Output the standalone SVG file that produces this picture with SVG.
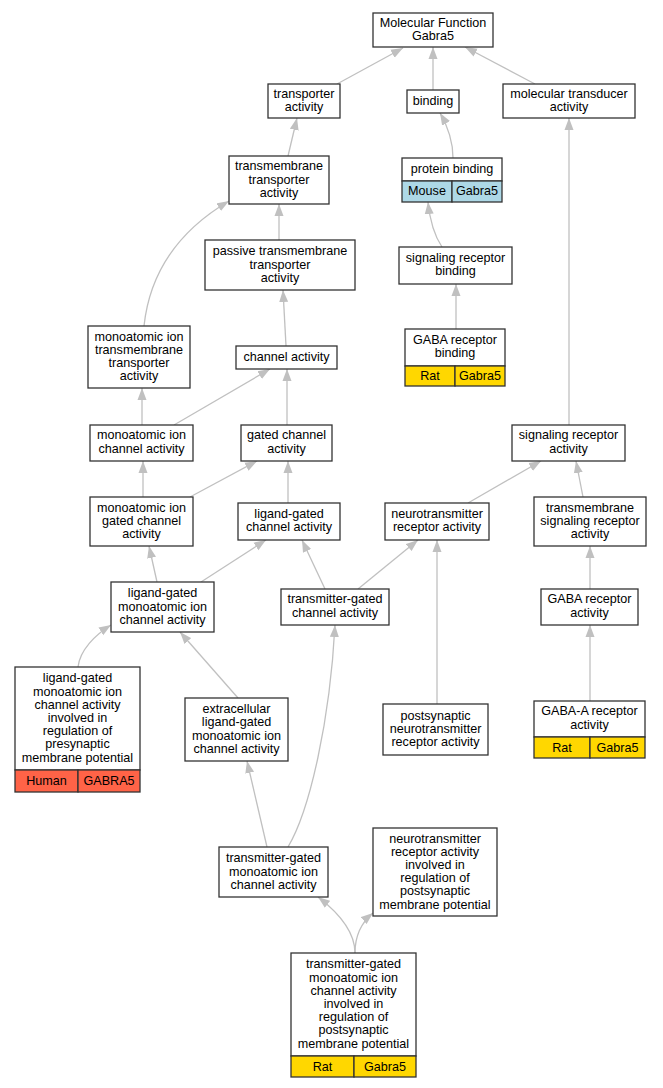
<svg xmlns="http://www.w3.org/2000/svg" width="663" height="1088" viewBox="0 0 663 1088">
<style>
.n rect{fill:#fff;stroke:#333;stroke-width:1.3}
.n rect.rat{fill:#ffd700}
.n rect.mouse{fill:#add8e6}
.n rect.human{fill:#ff6347}
.n line{stroke:#333;stroke-width:1.3}
text{font-family:"Liberation Sans",Arial,sans-serif;font-size:12.6px;fill:#000;text-anchor:middle}
.e path{fill:none;stroke:#c0c0c0;stroke-width:1.3;marker-end:url(#ah)}
</style>
<defs>
<marker id="ah" markerUnits="userSpaceOnUse" markerWidth="12" markerHeight="10" refX="12" refY="4.5" orient="auto" viewBox="0 0 12 9">
<path d="M0,0 L12,4.5 L0,9 z" fill="#c0c0c0"/>
</marker>
</defs>
<rect width="663" height="1088" fill="#fff"/>
<g class="e" id="edges">
<path d="M337,84 L403,48"/>
<path d="M433,90 L433,47"/>
<path d="M535,84 L465,47"/>
<path d="M288,156 L297,118"/>
<path d="M453,158 C453,140 447,125 440,113"/>
<path d="M279,240 L279,204"/>
<path d="M144,326 C150,270 180,230 229,201"/>
<path d="M286,346 L283,290"/>
<path d="M442,247 C436,238 430,222 428,202"/>
<path d="M456,329 L456,284"/>
<path d="M142,425 L142,388"/>
<path d="M174,425 L270,369"/>
<path d="M287,425 L287,369"/>
<path d="M569,425 L569,118"/>
<path d="M143,497 L143,461"/>
<path d="M190,497 L257,461"/>
<path d="M288,503 L288,461"/>
<path d="M468,503 L541,461"/>
<path d="M583,497 L576,461"/>
<path d="M157,582 L149,546"/>
<path d="M201,582 L266,540"/>
<path d="M325,589 L302,540"/>
<path d="M358,589 L418,540"/>
<path d="M590,589 L590,546"/>
<path d="M78,667 C80,650 95,635 111,625"/>
<path d="M238,698 L180,632"/>
<path d="M437,704 L437,540"/>
<path d="M590,701 L590,625"/>
<path d="M267,847 L247,761"/>
<path d="M288,847 C310,810 330,720 335,625"/>
<path d="M355,953 C355,930 335,910 318,897"/>
<path d="M355,953 C355,935 362,922 373,913"/>
</g>
<g class="n" id="n1"><rect x="373" y="13" width="120" height="34"/><text x="433" y="26.9">Molecular Function</text><text x="433" y="40.1">Gabra5</text></g>
<g class="n" id="n2"><rect x="268" y="84" width="72" height="34"/><text x="304" y="97.9">transporter</text><text x="304" y="111.1">activity</text></g>
<g class="n" id="n3"><rect x="407" y="90" width="52" height="23"/><text x="433" y="105">binding</text></g>
<g class="n" id="n4"><rect x="503" y="84" width="132" height="34"/><text x="569" y="97.9">molecular transducer</text><text x="569" y="111.1">activity</text></g>
<g class="n" id="n5"><rect x="229" y="156" width="100" height="48"/><text x="279" y="170.3">transmembrane</text><text x="279" y="183.5">transporter</text><text x="279" y="196.7">activity</text></g>
<g class="n" id="n6"><rect x="402" y="158" width="100" height="23"/><rect class="mouse" x="402" y="181" width="50" height="21"/><rect class="mouse" x="452" y="181" width="50" height="21"/><text x="452" y="173">protein binding</text><text x="427" y="195">Mouse</text><text x="477" y="195">Gabra5</text></g>
<g class="n" id="n7"><rect x="205" y="240" width="150" height="50"/><text x="280" y="255.3">passive transmembrane</text><text x="280" y="268.5">transporter</text><text x="280" y="281.7">activity</text></g>
<g class="n" id="n8"><rect x="399" y="247" width="113" height="37"/><text x="455.5" y="262">signaling receptor</text><text x="455.5" y="275.2">binding</text></g>
<g class="n" id="n9"><rect x="88" y="326" width="102" height="62"/><text x="139" y="340.7">monoatomic ion</text><text x="139" y="353.9">transmembrane</text><text x="139" y="367.1">transporter</text><text x="139" y="380.3">activity</text></g>
<g class="n" id="n10"><rect x="236" y="346" width="101" height="23"/><text x="286.5" y="361">channel activity</text></g>
<g class="n" id="n11"><rect x="405" y="329" width="100" height="37"/><rect class="rat" x="405" y="366" width="50" height="20"/><rect class="rat" x="455" y="366" width="50" height="20"/><text x="455" y="344">GABA receptor</text><text x="455" y="357.2">binding</text><text x="430" y="380">Rat</text><text x="480" y="380">Gabra5</text></g>
<g class="n" id="n12"><rect x="90" y="425" width="103" height="36"/><text x="141.5" y="439.4">monoatomic ion</text><text x="141.5" y="452.6">channel activity</text></g>
<g class="n" id="n13"><rect x="241" y="425" width="91" height="36"/><text x="286.5" y="439.4">gated channel</text><text x="286.5" y="452.6">activity</text></g>
<g class="n" id="n14"><rect x="512" y="425" width="113" height="36"/><text x="568.5" y="439.4">signaling receptor</text><text x="568.5" y="452.6">activity</text></g>
<g class="n" id="n15"><rect x="90" y="497" width="103" height="49"/><text x="141.5" y="511.8">monoatomic ion</text><text x="141.5" y="525">gated channel</text><text x="141.5" y="538.2">activity</text></g>
<g class="n" id="n16"><rect x="238" y="503" width="102" height="37"/><text x="289" y="518">ligand-gated</text><text x="289" y="531.2">channel activity</text></g>
<g class="n" id="n17"><rect x="385" y="503" width="104" height="37"/><text x="437" y="518">neurotransmitter</text><text x="437" y="531.2">receptor activity</text></g>
<g class="n" id="n18"><rect x="534" y="497" width="112" height="49"/><text x="590" y="511.8">transmembrane</text><text x="590" y="525">signaling receptor</text><text x="590" y="538.2">activity</text></g>
<g class="n" id="n19"><rect x="111" y="582" width="103" height="50"/><text x="162.5" y="597.3">ligand-gated</text><text x="162.5" y="610.5">monoatomic ion</text><text x="162.5" y="623.7">channel activity</text></g>
<g class="n" id="n20"><rect x="281" y="589" width="108" height="36"/><text x="335" y="603.4">transmitter-gated</text><text x="335" y="616.6">channel activity</text></g>
<g class="n" id="n21"><rect x="541" y="589" width="97" height="36"/><text x="589.5" y="603.4">GABA receptor</text><text x="589.5" y="616.6">activity</text></g>
<g class="n" id="n22"><rect x="15" y="667" width="125" height="103"/><rect class="human" x="15" y="770" width="63" height="22"/><rect class="human" x="78" y="770" width="62" height="22"/><text x="77.5" y="682.4">ligand-gated</text><text x="77.5" y="695.6">monoatomic ion</text><text x="77.5" y="708.8">channel activity</text><text x="77.5" y="722">involved in</text><text x="77.5" y="735.2">regulation of</text><text x="77.5" y="748.4">presynaptic</text><text x="77.5" y="761.6">membrane potential</text><text x="46.5" y="785">Human</text><text x="109" y="785">GABRA5</text></g>
<g class="n" id="n23"><rect x="185" y="698" width="103" height="63"/><text x="236.5" y="713.2">extracellular</text><text x="236.5" y="726.4">ligand-gated</text><text x="236.5" y="739.6">monoatomic ion</text><text x="236.5" y="752.8">channel activity</text></g>
<g class="n" id="n24"><rect x="383" y="704" width="105" height="51"/><text x="435.5" y="719.8">postsynaptic</text><text x="435.5" y="733">neurotransmitter</text><text x="435.5" y="746.2">receptor activity</text></g>
<g class="n" id="n25"><rect x="534" y="701" width="111" height="36"/><rect class="rat" x="534" y="737" width="56" height="21"/><rect class="rat" x="590" y="737" width="55" height="21"/><text x="589.5" y="715.4">GABA-A receptor</text><text x="589.5" y="728.6">activity</text><text x="562" y="751.5">Rat</text><text x="617.5" y="751.5">Gabra5</text></g>
<g class="n" id="n26"><rect x="219" y="847" width="109" height="50"/><text x="273.5" y="862.3">transmitter-gated</text><text x="273.5" y="875.5">monoatomic ion</text><text x="273.5" y="888.7">channel activity</text></g>
<g class="n" id="n27"><rect x="373" y="828" width="124" height="88"/><text x="435" y="842.5">neurotransmitter</text><text x="435" y="855.7">receptor activity</text><text x="435" y="868.9">involved in</text><text x="435" y="882.1">regulation of</text><text x="435" y="895.3">postsynaptic</text><text x="435" y="908.5">membrane potential</text></g>
<g class="n" id="n28"><rect x="291" y="953" width="125" height="103"/><rect class="rat" x="291" y="1056" width="63" height="21"/><rect class="rat" x="354" y="1056" width="62" height="21"/><text x="353.5" y="968.4">transmitter-gated</text><text x="353.5" y="981.6">monoatomic ion</text><text x="353.5" y="994.8">channel activity</text><text x="353.5" y="1008">involved in</text><text x="353.5" y="1021.2">regulation of</text><text x="353.5" y="1034.4">postsynaptic</text><text x="353.5" y="1047.6">membrane potential</text><text x="322.5" y="1071">Rat</text><text x="385" y="1071">Gabra5</text></g>
</svg>
